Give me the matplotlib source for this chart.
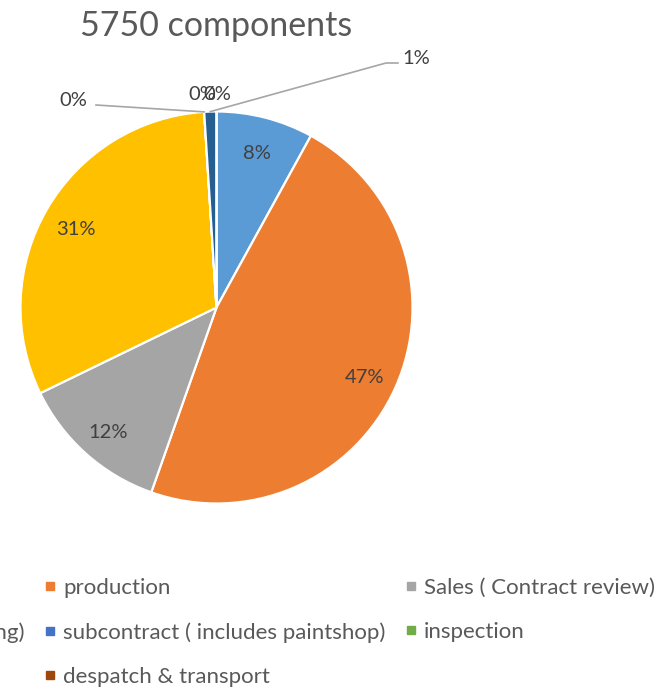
import matplotlib
matplotlib.use("Agg")
import matplotlib.pyplot as plt
from matplotlib.lines import Line2D
import numpy as np

# ─── Data ─────────────────────────────────────────────────────────────────────

TITLE = "5750 components"
categories = [
    "design",
    "production",
    "Sales ( Contract review)",
    "purchasing ( includes planning)",
    "subcontract ( includes paintshop)",
    "inspection",
    "quality",
    "despatch & transport",
]
shares = [8.0, 47.4, 12.4, 31.2, 0.0, 0.0, 1.0, 0.0]
colors = ["#5B9BD5", "#ED7D31", "#A5A5A5", "#FFC000",
          "#4472C4", "#70AD47", "#255E91", "#9E480E"]

LABEL_COLOR = "#404040"
TEXT_COLOR = "#595959"
LEADER = "#A6A6A6"
FONT = ["Lato", "DejaVu Sans"]
LBL_SIZE = 14.5

# ─── Figure (1 data unit = 196 px, pie centred at pixel 216.5, 307.5) ────────

W, H, DPI = 658, 691, 100
CX, CY, R = 216.5, 307.5, 196.0

fig = plt.figure(figsize=(W / DPI, H / DPI), dpi=DPI)
ax = fig.add_axes([0, 0, 1, 1])
ax.axis("off")


def px(x, y):
    """pixel position (from top-left) -> data coords"""
    return (x - CX) / R, (CY - y) / R


wedges, _ = ax.pie(
    shares, colors=colors, startangle=90, counterclock=False, radius=1.0,
    wedgeprops=dict(edgecolor="white", linewidth=1.6), normalize=True,
)
ax.set_xlim(-CX / R, (W - CX) / R)
ax.set_ylim((CY - H) / R, CY / R)
ax.set_aspect("auto")


def label(x, y, s):
    ax.text(x, y, s, ha="center", va="center", fontsize=LBL_SIZE,
            color=LABEL_COLOR, family=FONT)


# inside labels for the big slices
for w, v in zip(wedges, shares):
    if v < 5:
        continue
    mid = np.deg2rad((w.theta1 + w.theta2) / 2)
    d = 0.83
    label(d * np.cos(mid), d * np.sin(mid) - 0.02, f"{v:.0f}%")


def edge_point(w, r=1.0):
    mid = np.deg2rad((w.theta1 + w.theta2) / 2)
    return r * np.cos(mid), r * np.sin(mid)


# subcontract 0% - left label with leader
x0, y0 = edge_point(wedges[4])
sx, sy = px(96, 105)
ax.plot([sx, x0], [sy, y0], color=LEADER, lw=1.2)
label(*px(73.5, 101), f"{shares[4]:.0f}%")

# inspection & despatch 0% - overlapping at the top
label(*px(202, 94), f"{shares[5]:.0f}%")
label(*px(217, 94), f"{shares[7]:.0f}%")

# 1% slice - label up right with leader
x1, y1 = edge_point(wedges[6])
ax.plot([px(398, 63)[0], px(386, 63)[0], x1],
        [px(398, 63)[1], px(386, 63)[1], y1], color=LEADER, lw=1.2)
label(*px(416, 59), f"{shares[6]:.0f}%")

# ─── Title ────────────────────────────────────────────────────────────────────

fig.text(216.5 / W, 1 - 26 / H, TITLE, ha="center", va="center",
         fontsize=24.5, color=TEXT_COLOR, family=FONT)

# ─── Legend (row-major like Excel, left column cropped off) ───────────────────

handles = [Line2D([], [], marker="s", ls="", color=c, markersize=5.8)
           for c in colors]
order = [0, 3, 6, 1, 4, 7, 2, 5]
leg = fig.legend(
    [handles[i] for i in order], [categories[i] for i in order],
    ncol=3, loc="upper right", bbox_to_anchor=(655 / W, 1 - 578 / H),
    frameon=False, prop={"family": FONT, "size": 16},
    handlelength=0.5, handletextpad=0.34, columnspacing=0.9,
    labelspacing=1.09, borderpad=0, borderaxespad=0,
)
for t in leg.get_texts():
    t.set_color(TEXT_COLOR)

fig.savefig("out.png", dpi=DPI)
